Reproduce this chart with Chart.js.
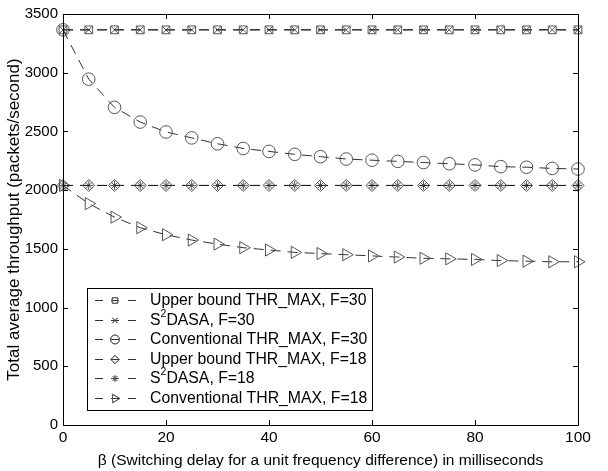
<!DOCTYPE html>
<html>
<head>
<meta charset="utf-8">
<script src="https://cdn.jsdelivr.net/npm/chart.js@4.4.0/dist/chart.umd.min.js"></script>
<style>
  html, body { margin: 0; padding: 0; background: #fff; }
  #grafico { display: block; }
</style>
</head>
<body>
<canvas id="grafico" width="608" height="471"></canvas>
<script>
// Dados
const beta = [0, 5, 10, 15, 20, 25, 30, 35, 40, 45, 50, 55, 60, 65, 70, 75, 80, 85, 90, 95, 100];
const upperF30 = [3365, 3365, 3365, 3365, 3365, 3365, 3365, 3365, 3365, 3365, 3365, 3365, 3365, 3365, 3365, 3365, 3365, 3365, 3365, 3365, 3365];
const s2dasaF30 = [3365, 3365, 3365, 3365, 3365, 3365, 3365, 3365, 3365, 3365, 3365, 3365, 3365, 3365, 3365, 3365, 3365, 3365, 3365, 3365, 3365];
const convF30 = [3365, 2945, 2705, 2580, 2495, 2445, 2395, 2355, 2330, 2305, 2285, 2265, 2255, 2245, 2235, 2225, 2215, 2200, 2195, 2185, 2180];
const upperF18 = [2040, 2040, 2040, 2040, 2040, 2040, 2040, 2040, 2040, 2040, 2040, 2040, 2040, 2040, 2040, 2040, 2040, 2040, 2040, 2040, 2040];
const s2dasaF18 = [2040, 2040, 2040, 2040, 2040, 2040, 2040, 2040, 2040, 2040, 2040, 2040, 2040, 2040, 2040, 2040, 2040, 2040, 2040, 2040, 2040];
const convF18 = [2040, 1885, 1770, 1680, 1620, 1575, 1540, 1510, 1490, 1470, 1460, 1450, 1440, 1430, 1420, 1415, 1410, 1400, 1395, 1390, 1390];

const yTicks = [0, 500, 1000, 1500, 2000, 2500, 3000, 3500];
const xTicks = [0, 20, 40, 60, 80, 100];

const nomes = [
    'Upper bound THR_MAX, F=30',
    'S2DASA, F=30',
    'Conventional THR_MAX, F=30',
    'Upper bound THR_MAX, F=18',
    'S2DASA, F=18',
    'Conventional THR_MAX, F=18'
];

const FONTE = '"Liberation Sans", Arial, Helvetica, sans-serif';
const COR_LINHA = '#1a1a1a';
const COR_MARCA = '#555555';

function serie(nome, valores, estilo, raio, rotacao) {
    return {
        label: nome,
        data: beta.map((b, i) => ({ x: b, y: valores[i] })),
        borderColor: COR_LINHA,
        borderWidth: 0.9,
        borderDash: [10, 7],
        pointStyle: estilo,
        pointRadius: raio,
        pointRotation: rotacao || 0,
        pointBorderColor: COR_MARCA,
        pointBorderWidth: 1,
        pointBackgroundColor: 'rgba(0,0,0,0)',
        tension: 0,
        clip: false
    };
}

// Caixa dos eixos com marcas para dentro
const caixaPlugin = {
    id: 'caixa',
    afterDraw(chart) {
        const ctx = chart.ctx;
        const a = chart.chartArea;
        const xs = chart.scales.x;
        const ys = chart.scales.y;
        ctx.save();
        ctx.strokeStyle = '#000';
        ctx.lineWidth = 1;
        ctx.beginPath();
        ctx.rect(Math.round(a.left) + 0.5, Math.round(a.top) + 0.5,
                 Math.round(a.right - a.left), Math.round(a.bottom - a.top));
        xTicks.forEach(v => {
            const px = Math.round(xs.getPixelForValue(v)) + 0.5;
            ctx.moveTo(px, a.bottom); ctx.lineTo(px, a.bottom - 5);
            ctx.moveTo(px, a.top); ctx.lineTo(px, a.top + 5);
        });
        yTicks.forEach(v => {
            const py = Math.round(ys.getPixelForValue(v)) + 0.5;
            ctx.moveTo(a.left, py); ctx.lineTo(a.left + 5, py);
            ctx.moveTo(a.right, py); ctx.lineTo(a.right - 5, py);
        });
        ctx.stroke();
        ctx.restore();
    }
};

// Marcador para a legenda
function desenharMarca(ctx, ds, x, y) {
    if (Chart.helpers && Chart.helpers.drawPoint) {
        Chart.helpers.drawPoint(ctx, {
            pointStyle: ds.pointStyle,
            rotation: ds.pointRotation,
            radius: ds.pointRadius,
            borderWidth: 1
        }, x, y);
        ctx.stroke();
    }
}

// Legenda dentro da área do gráfico
const legendaPlugin = {
    id: 'legendaInterna',
    afterDraw(chart) {
        const ctx = chart.ctx;
        const esq = 87, topo = 288, larg = 285, alt = 122;
        ctx.save();
        ctx.fillStyle = '#fff';
        ctx.fillRect(esq, topo, larg, alt);
        ctx.strokeStyle = '#000';
        ctx.lineWidth = 1;
        ctx.strokeRect(esq + 0.5, topo + 0.5, larg, alt);
        chart.data.datasets.forEach((ds, i) => {
            const y = Math.round(topo + 12 + i * 19.5) + 0.5;
            // traços da linha
            ctx.strokeStyle = COR_LINHA;
            ctx.lineWidth = 0.9;
            ctx.setLineDash([]);
            ctx.beginPath();
            ctx.moveTo(esq + 8, y); ctx.lineTo(esq + 16, y);
            ctx.moveTo(esq + 24, y); ctx.lineTo(esq + 32, y);
            ctx.moveTo(esq + 41, y); ctx.lineTo(esq + 49, y);
            ctx.stroke();
            ctx.strokeStyle = COR_MARCA;
            ctx.fillStyle = 'rgba(0,0,0,0)';
            desenharMarca(ctx, Object.assign({}, ds, { pointRadius: ds.pointRadius * 0.7 }), esq + 28, y);
            // texto com expoente em S2DASA
            ctx.fillStyle = '#000';
            ctx.textBaseline = 'middle';
            ctx.textAlign = 'left';
            ctx.font = '15.8px ' + FONTE;
            let tx = esq + 63;
            const nome = nomes[i];
            if (nome.startsWith('S2')) {
                ctx.fillText('S', tx, y);
                tx += ctx.measureText('S').width;
                ctx.font = '10.5px ' + FONTE;
                ctx.fillText('2', tx, y - 6);
                tx += ctx.measureText('2').width;
                ctx.font = '15.8px ' + FONTE;
                ctx.fillText(nome.slice(2), tx, y);
            } else {
                ctx.fillText(nome, tx, y);
            }
        });
        ctx.restore();
    }
};

document.addEventListener('DOMContentLoaded', function() {
    const ctx = document.getElementById('grafico').getContext('2d');
    new Chart(ctx, {
        type: 'line',
        data: {
            datasets: [
                serie(nomes[0], upperF30, 'rect', 5.5),
                serie(nomes[1], s2dasaF30, 'crossRot', 5.5),
                serie(nomes[2], convF30, 'circle', 6.3),
                serie(nomes[3], upperF18, 'rectRot', 6),
                serie(nomes[4], s2dasaF18, 'star', 4.5),
                serie(nomes[5], convF18, 'triangle', 7, 90)
            ]
        },
        options: {
            responsive: false,
            animation: false,
            layout: { padding: { left: 3, right: 30, top: 10, bottom: 1 } },
            plugins: {
                legend: { display: false },
                tooltip: { enabled: false }
            },
            scales: {
                x: {
                    type: 'linear',
                    min: 0,
                    max: 100,
                    afterBuildTicks: s => { s.ticks = xTicks.map(v => ({ value: v })); },
                    afterFit: s => { s.height = 45; },
                    grid: { display: false, drawTicks: false },
                    border: { display: false },
                    ticks: {
                        color: '#000',
                        font: { size: 15.5, family: FONTE },
                        padding: 3,
                        maxRotation: 0,
                        callback: v => String(v)
                    },
                    title: {
                        display: true,
                        text: 'β (Switching delay for a unit frequency difference) in milliseconds',
                        color: '#000',
                        font: { size: 15.5, family: FONTE },
                        padding: { top: 0, bottom: 0 }
                    }
                },
                y: {
                    min: 0,
                    max: 3500,
                    afterBuildTicks: s => { s.ticks = yTicks.map(v => ({ value: v })); },
                    afterFit: s => { s.width = 60; },
                    grid: { display: false, drawTicks: false },
                    border: { display: false },
                    ticks: {
                        color: '#000',
                        font: { size: 15, family: FONTE },
                        padding: 5,
                        callback: v => String(v)
                    },
                    title: {
                        display: true,
                        text: 'Total average throughput (packets/second)',
                        color: '#000',
                        font: { size: 17, family: FONTE },
                        padding: { top: 1, bottom: 0 }
                    }
                }
            }
        },
        plugins: [caixaPlugin, legendaPlugin]
    });
});
</script>
</body>
</html>
